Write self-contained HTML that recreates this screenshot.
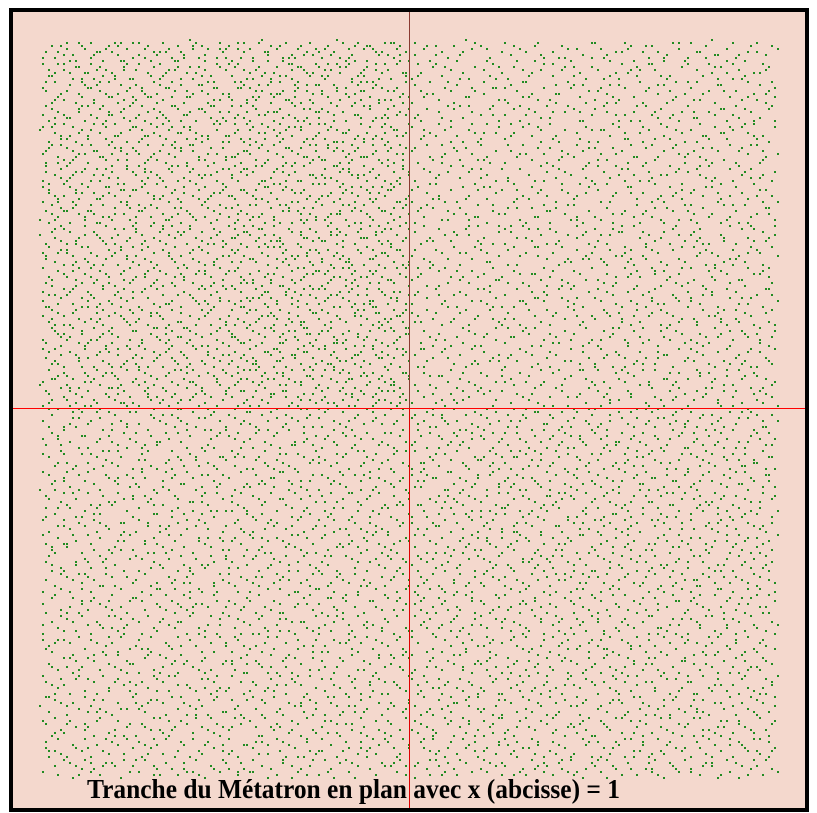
<!DOCTYPE html>
<html><head><meta charset="utf-8"><style>
html,body{margin:0;padding:0;background:#fff;width:817px;height:813px;overflow:hidden}
svg{display:block}
</style></head><body>
<svg id="chart" width="817" height="813" viewBox="0 0 817 813">
<rect x="11" y="10" width="796" height="800" fill="#f4d8cd" stroke="#000" stroke-width="4"/>
<g id="pts" fill="#228b22"></g>
<line x1="409.5" y1="12" x2="409.5" y2="408" stroke="#8a3a30" stroke-width="1"/>
<line x1="409.5" y1="408" x2="409.5" y2="808" stroke="#e00000" stroke-width="1"/>
<line x1="13" y1="408.5" x2="805" y2="408.5" stroke="#ff0000" stroke-width="1"/>
<text x="87" y="798" font-family="Liberation Serif, serif" font-weight="bold" font-size="27" textLength="533" lengthAdjust="spacingAndGlyphs" fill="#000">Tranche du Métatron en plan avec x (abcisse) = 1</text>
</svg>
<script>
// Estimated point counts per region (4 columns x 4 rows, left->right, top->bottom)
const regionRows = [0,1,2,3];
const regionCols = [0,1,2,3];
const densityRow0 = [560, 600, 360, 380];
const densityRow1 = [540, 620, 370, 400];
const densityRow2 = [410, 430, 450, 440];
const densityRow3 = [400, 410, 420, 420];
const densities = [densityRow0, densityRow1, densityRow2, densityRow3];

const x0 = 40, x1 = 777, y0 = 40, y1 = 777;
const cw = (x1 - x0) / 4, ch = (y1 - y0) / 4;
function xs(c, u){ return x0 + (c + u) * cw; }
function ys(r, v){ return y0 + (r + v) * ch; }
function halton(i, b){ let f = 1, r = 0; while (i > 0){ f /= b; r += f * (i % b); i = Math.floor(i / b); } return r; }
const g = document.getElementById('pts');
const ns = 'http://www.w3.org/2000/svg';
let k = 1;
regionRows.forEach(r => {
  regionCols.forEach(c => {
    const n = densities[r][c];
    for (let i = 0; i < n; i++, k++) {
      const px = Math.round(xs(c, halton(k, 2)) / 3) * 3;
      const py = Math.round(ys(r, halton(k, 3)) / 3) * 3;
      const p = document.createElementNS(ns, 'rect');
      
      
      p.setAttribute('x', px); p.setAttribute('y', py);
      p.setAttribute('width', 2); p.setAttribute('height', 2);
      g.appendChild(p);
    }
  });
});
</script>
</body></html>
